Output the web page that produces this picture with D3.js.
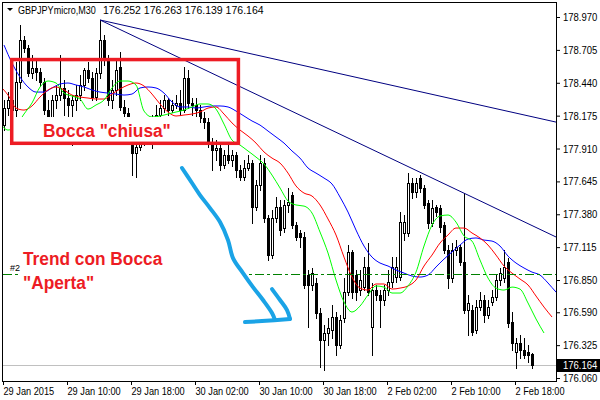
<!DOCTYPE html>
<html><head><meta charset="utf-8">
<script src="https://cdn.jsdelivr.net/npm/d3@7"></script>
<style>body{margin:0;background:#fff}svg{display:block}</style>
</head><body>
<svg id="chart" width="600" height="400"></svg>
<script>
// ---------------- DATA ----------------
const symbolTitle = "GBPJPYmicro,M30";
const opens = [178.099,178.236,178.301,178.220,178.446,178.785,178.720,178.519,178.559,178.527,
178.446,178.220,178.156,178.301,178.341,178.398,178.317,178.261,178.301,178.341,
178.422,178.543,178.478,178.325,178.519,178.785,178.623,178.301,178.382,178.567,
178.245,178.196,178.019,177.874,177.922,177.995,178.075,178.043,178.099,178.180,
178.236,178.301,178.220,178.261,178.277,178.220,178.478,178.277,178.261,178.220,
178.156,178.124,177.954,177.898,177.914,177.777,177.857,177.817,177.857,177.737,
177.680,177.753,177.793,177.438,177.616,177.793,177.350,177.051,177.350,177.438,
177.269,177.455,177.535,177.293,177.229,177.197,176.890,176.810,176.826,176.584,
176.366,176.423,176.447,176.552,176.326,176.544,176.753,177.076,176.890,176.769,
176.793,176.955,176.471,176.769,176.729,176.689,176.769,176.834,176.874,176.874,
177.229,177.229,177.632,177.559,177.672,177.592,177.471,177.309,177.438,177.430,
177.293,177.092,176.866,177.092,177.116,176.995,176.608,176.608,176.447,176.632,
176.689,176.568,176.673,176.713,176.850,176.866,176.995,176.511,176.270,176.342,
176.286,176.270,176.252];
const highs = [178.301,178.365,178.341,178.607,178.905,178.817,178.744,178.664,178.623,178.559,
178.478,178.301,178.341,178.422,178.664,178.462,178.382,178.341,178.422,178.502,
178.559,178.607,178.527,178.559,178.946,178.825,178.664,178.462,178.623,178.688,
178.301,178.236,178.059,177.978,178.099,178.140,178.156,178.180,178.261,178.301,
178.341,178.317,178.301,178.341,178.382,178.567,178.543,178.317,178.317,178.261,
178.204,178.156,177.995,177.978,177.938,177.898,177.954,177.898,177.882,177.777,
177.817,177.857,177.817,177.656,177.857,177.833,177.374,177.414,177.519,177.495,
177.495,177.592,177.559,177.317,177.253,177.237,176.931,176.947,176.866,176.624,
176.487,176.544,176.648,176.592,176.568,176.866,177.132,177.092,176.931,176.931,
177.035,177.148,176.826,176.810,176.769,176.810,176.931,177.035,177.035,177.398,
177.374,177.712,177.672,177.672,177.696,177.616,177.495,177.495,177.455,177.455,
177.317,177.132,177.148,177.172,177.132,177.551,176.729,176.648,176.689,176.753,
176.729,176.689,176.769,176.890,176.947,177.092,177.027,176.592,176.382,176.407,
176.382,176.326,176.263];
const lows = [178.059,178.180,178.156,178.140,178.398,178.688,178.494,178.478,178.462,178.414,
178.188,178.099,178.124,178.236,178.301,178.180,177.978,177.938,178.220,178.301,
178.382,178.446,178.301,178.301,178.478,178.583,178.261,178.236,178.341,178.220,
178.140,177.978,177.696,177.680,177.898,177.938,177.978,177.914,178.059,178.156,
178.204,178.180,178.204,178.236,178.180,178.204,178.236,178.180,178.156,178.124,
178.075,177.922,177.737,177.817,177.737,177.753,177.793,177.769,177.680,177.656,
177.656,177.737,177.309,177.414,177.575,177.317,177.011,177.027,177.317,177.213,
177.237,177.398,177.269,177.172,177.116,176.785,176.471,176.769,176.544,176.149,
176.124,176.326,176.382,176.245,176.302,176.511,176.729,176.705,176.689,176.729,
176.769,176.729,176.245,176.689,176.471,176.648,176.729,176.793,176.834,176.850,
177.172,177.205,177.511,177.519,177.559,177.430,177.269,177.285,177.366,177.237,
177.068,176.785,176.834,177.051,176.971,176.584,176.407,176.407,176.423,176.608,
176.511,176.544,176.648,176.689,176.810,176.834,176.471,176.286,176.141,176.221,
176.221,176.189,176.139];
const closes = [178.236,178.301,178.220,178.446,178.785,178.720,178.519,178.559,178.527,178.446,
178.220,178.156,178.301,178.341,178.398,178.317,178.261,178.301,178.341,178.422,
178.543,178.478,178.325,178.519,178.785,178.623,178.301,178.382,178.543,178.245,
178.196,178.019,177.874,177.922,177.995,178.075,178.043,178.099,178.180,178.236,
178.301,178.220,178.261,178.277,178.220,178.478,178.277,178.261,178.220,178.156,
178.124,177.954,177.898,177.914,177.777,177.857,177.817,177.857,177.737,177.680,
177.753,177.793,177.438,177.616,177.793,177.350,177.051,177.350,177.438,177.253,
177.455,177.479,177.293,177.197,177.197,176.810,176.810,176.906,176.584,176.366,
176.423,176.463,176.552,176.326,176.528,176.753,177.076,176.753,176.753,176.850,
176.955,176.753,176.769,176.729,176.689,176.769,176.834,176.955,176.955,177.317,
177.317,177.632,177.559,177.632,177.592,177.455,177.309,177.430,177.398,177.277,
177.092,176.866,177.092,177.116,176.995,176.608,176.665,176.431,176.632,176.689,
176.568,176.632,176.713,176.850,176.906,176.955,176.503,176.342,176.342,176.286,
176.245,176.245,176.164];

// Alligator lines, read every 2 bars (bar index = start + 2*k)
const lineStep = 2;
const jawStart = 0;   // blue
const jawValues = [178.744,178.599,178.486,178.406,178.365,178.365,178.398,178.430,178.438,178.422,
178.406,178.382,178.365,178.357,178.349,178.341,178.349,178.398,178.406,178.398,
178.357,178.285,178.245,178.245,178.236,178.245,178.253,178.253,178.245,178.212,
178.172,178.132,178.099,178.051,178.003,177.954,177.890,177.833,177.753,177.712,
177.672,177.624,177.519,177.398,177.253,177.124,177.035,176.987,176.963,176.931,
176.906,176.882,176.874,176.890,176.955,177.019,177.076,177.132,177.180,177.189,
177.172,177.164,177.124,177.043,176.987,176.947,176.914,176.890,176.826,176.753,176.689];
const teethStart = -1; // red
const teethValues = [178.414,178.341,178.236,178.220,178.253,178.325,178.382,178.406,178.382,178.341,
178.325,178.317,178.309,178.309,178.349,178.390,178.422,178.438,178.414,178.349,
178.269,178.204,178.172,178.180,178.188,178.204,178.236,178.245,178.188,178.116,
178.059,178.011,177.954,177.882,177.833,177.793,177.712,177.608,177.551,177.527,
177.455,177.342,177.213,177.035,176.874,176.785,176.769,176.818,176.818,176.777,
176.785,176.802,176.850,176.963,177.051,177.148,177.213,177.269,177.269,177.229,
177.189,177.132,177.051,176.963,176.906,176.858,176.810,176.721,176.632,176.552];
const lipsStart = -1;  // green
const lipsValues = [178.116,178.059,178.091,178.188,178.277,178.406,178.454,178.438,178.357,178.333,
178.309,178.228,178.261,178.301,178.398,178.454,178.454,178.422,178.212,178.164,
178.172,178.188,178.204,178.220,178.245,178.269,178.269,178.228,178.107,177.978,
177.938,177.890,177.841,177.785,177.696,177.592,177.487,177.455,177.446,177.390,
177.237,177.068,176.850,176.673,176.592,176.640,176.729,176.802,176.793,176.745,
176.745,176.802,176.914,177.124,177.293,177.366,177.374,177.317,177.205,177.164,
177.011,176.866,176.785,176.769,176.793,176.777,176.665,176.536,176.423];

const xTickBars = [0,16,32,48,64,80,96,112,128];
const xTickLabels = ["29 Jan 2015","29 Jan 10:00","29 Jan 18:00","30 Jan 02:00","30 Jan 10:00",
  "30 Jan 18:00","2 Feb 02:00","2 Feb 10:00","2 Feb 18:00"];
const yTickValues = [178.970,178.705,178.440,178.175,177.910,177.645,177.380,177.115,176.850,176.590,176.325,176.060];

// objects drawn on the chart (bar index, price)
const levelPrice = 176.898;
const levelLabel = "#2";
const trendStart = [24, 178.946];
const trendEnds = [[138, 178.123], [138, 177.197]];
const boxCorners = [[1.93, 178.627], [58.6, 177.952]];
// opaque backgrounds of the pasted text boxes
const textBackgrounds = [[[2.25, 178.164], [49, 177.962]], [[4.25, 177.140], [60, 176.721]]];
const noteClosed = {text: 'Bocca "chiusa"', bar: 9.75, price: 178.003};
const noteOpen = [{text: 'Trend con Bocca', bar: 4.75, price: 176.971},
                  {text: '"Aperta"', bar: 4.75, price: 176.777}];
const arrowStrokes = [
  [[44.5,177.753],[47,177.632],[49,177.535],[51.5,177.430],[54,177.317],[56,177.172],[57.25,177.027],
   [59.75,176.906],[62.25,176.793],[64.75,176.689],[67,176.584],[67.75,176.528]],
  [[60.25,176.511],[64.5,176.519],[71.5,176.536]],
  [[67,176.777],[69,176.689],[70.75,176.608],[71.5,176.536]]
];

// ---------------- CHART ----------------
const W = 600, H = 400;
const plot = {left: 2.5, right: 556.5, top: 2.5, bottom: 381.5};
const svg = d3.select("#chart");
const FONT = "'Liberation Sans', Arial, sans-serif";

const x = d3.scaleLinear().domain([0, 132]).range([4, 532]);
const y = d3.scaleLinear().domain([176.032, 179.087]).range([plot.bottom, plot.top]);

function condense(sel, f) {
  sel.each(function () {
    const L = this.getComputedTextLength();
    if (L > 0) { this.setAttribute("textLength", (L * f).toFixed(2)); this.setAttribute("lengthAdjust", "spacingAndGlyphs"); }
  });
}

svg.append("rect").attr("width", W).attr("height", H).attr("fill", "#fff");
svg.append("defs").append("clipPath").attr("id", "clip").append("rect")
  .attr("x", plot.left).attr("y", plot.top).attr("width", plot.right - plot.left).attr("height", plot.bottom - plot.top);

const bars = opens.map((o, i) => ({i, o, h: highs[i], l: lows[i], c: closes[i]}));
const lastClose = closes[closes.length - 1];

const main = svg.append("g").attr("clip-path", "url(#clip)");

// bid line
main.append("line").attr("x1", plot.left).attr("x2", plot.right)
  .attr("y1", Math.round(y(lastClose)) + 0.5).attr("y2", Math.round(y(lastClose)) + 0.5)
  .attr("stroke", "#c0c0c0").attr("stroke-width", 1);

// candles
const cg = main.append("g").attr("shape-rendering", "crispEdges");
cg.selectAll("line.wick").data(bars).join("line").attr("class", "wick")
  .attr("x1", d => Math.round(x(d.i)) + 0.5).attr("x2", d => Math.round(x(d.i)) + 0.5)
  .attr("y1", d => Math.round(y(d.h))).attr("y2", d => Math.round(y(d.l)) + 1)
  .attr("stroke", "#000");
cg.selectAll("rect.body").data(bars.filter(d => d.c < d.o)).join("rect").attr("class", "body")
  .attr("x", d => Math.round(x(d.i)) - 1).attr("width", 3)
  .attr("y", d => Math.round(y(d.o)))
  .attr("height", d => Math.max(1, Math.round(y(d.c)) - Math.round(y(d.o)) + 1))
  .attr("fill", "#000");
cg.selectAll("rect.bull").data(bars.filter(d => d.c >= d.o)).join("rect").attr("class", "bull")
  .attr("x", d => Math.round(x(d.i)) - 0.5).attr("width", 2)
  .attr("y", d => Math.round(y(d.c)) + 0.5)
  .attr("height", d => Math.max(0, Math.round(y(d.o)) - Math.round(y(d.c))))
  .attr("fill", "#fff").attr("stroke", "#000");

// alligator
const lineGen = d3.line().x(d => x(d[0])).y(d => y(d[1])).curve(d3.curveMonotoneX);
const series = [
  {start: jawStart, values: jawValues, color: "#0000ff"},
  {start: teethStart, values: teethValues, color: "#ff0000"},
  {start: lipsStart, values: lipsValues, color: "#00ff00"}
];
main.selectAll("path.ma").data(series).join("path").attr("class", "ma")
  .attr("d", s => lineGen(s.values.map((v, k) => [s.start + k * lineStep, v])))
  .attr("fill", "none").attr("stroke", s => s.color).attr("stroke-width", 1);

// trend lines
main.selectAll("path.trend").data(trendEnds).join("path").attr("class", "trend")
  .attr("d", e => d3.line().x(d => x(d[0])).y(d => y(d[1]))([trendStart, e]))
  .attr("stroke", "#000080").attr("stroke-width", 1).attr("fill", "none");

// horizontal level
main.append("line").attr("x1", plot.left).attr("x2", plot.right)
  .attr("y1", Math.round(y(levelPrice)) + 0.5).attr("y2", Math.round(y(levelPrice)) + 0.5)
  .attr("stroke", "#008000").attr("stroke-dasharray", "9,3,3,3").attr("shape-rendering", "crispEdges");

// annotations (pasted on top of the chart)
const RED = "#ed1c24", CYAN = "#1aa3e6";
svg.selectAll("rect.textbg").data(textBackgrounds).join("rect").attr("class", "textbg")
  .attr("x", d => x(d[0][0])).attr("y", d => y(d[0][1]))
  .attr("width", d => x(d[1][0]) - x(d[0][0])).attr("height", d => y(d[1][1]) - y(d[0][1]))
  .attr("fill", "#fff");

svg.append("text").attr("x", x(1.5)).attr("y", y(levelPrice) - 3)
  .attr("font-family", FONT).attr("font-size", 9).attr("fill", "#000").text(levelLabel);

svg.append("rect")
  .attr("x", x(boxCorners[0][0])).attr("y", y(boxCorners[0][1]))
  .attr("width", x(boxCorners[1][0]) - x(boxCorners[0][0]))
  .attr("height", y(boxCorners[1][1]) - y(boxCorners[0][1]))
  .attr("fill", "none").attr("stroke", RED).attr("stroke-width", 3.5);

const notes = [noteClosed].concat(noteOpen);
const nt = svg.selectAll("text.note").data(notes).join("text").attr("class", "note")
  .attr("x", d => x(d.bar)).attr("y", d => y(d.price))
  .attr("font-family", FONT).attr("font-weight", "bold").attr("font-size", 18)
  .attr("fill", RED).text(d => d.text);
condense(nt, 0.96);

svg.selectAll("path.arrow").data(arrowStrokes).join("path").attr("class", "arrow")
  .attr("d", d3.line().x(d => x(d[0])).y(d => y(d[1])).curve(d3.curveCatmullRom))
  .attr("fill", "none").attr("stroke", CYAN).attr("stroke-width", 4)
  .attr("stroke-linecap", "round").attr("stroke-linejoin", "round");

// frame
svg.append("rect").attr("x", plot.left).attr("y", plot.top)
  .attr("width", plot.right - plot.left).attr("height", plot.bottom - plot.top)
  .attr("fill", "none").attr("stroke", "#000").attr("shape-rendering", "crispEdges");

// right axis
const yAxis = d3.axisRight(y).tickValues(yTickValues).tickFormat(d3.format(".3f")).tickSize(4).tickPadding(3);
const ya = svg.append("g").attr("transform", `translate(${plot.right - 0.5},0)`).call(yAxis);
ya.select(".domain").remove();
ya.selectAll("text").attr("font-family", FONT).attr("font-size", 10).attr("fill", "#000").attr("dy", "0.35em");
ya.selectAll("line").attr("stroke", "#000");
condense(ya.selectAll("text"), 0.95);

// bottom axis
const xAxis = d3.axisBottom(x).tickValues(xTickBars).tickFormat((d, i) => xTickLabels[i]).tickSize(4);
const xa = svg.append("g").attr("transform", `translate(-1,${plot.bottom - 0.5})`).call(xAxis);
xa.select(".domain").remove();
xa.selectAll("line").attr("stroke", "#000");
xa.selectAll("text").attr("font-family", FONT).attr("font-size", 10).attr("fill", "#000")
  .attr("text-anchor", "start").attr("y", 13.5).attr("dy", 0).attr("x", 0);
condense(xa.selectAll("text"), 0.92);

// last price label
const ly = Math.round(y(lastClose));
svg.append("rect").attr("x", 557).attr("y", ly - 6).attr("width", 43).attr("height", 13).attr("fill", "#000");
const lt = svg.append("text").attr("x", 563).attr("y", ly + 4).attr("font-family", FONT).attr("font-size", 10)
  .attr("fill", "#fff").text(d3.format(".3f")(lastClose));
condense(lt, 0.95);

// header
svg.append("path").attr("d", "M7,8L13,8L10,11Z").attr("fill", "#000");
const ht = svg.append("text").attr("x", 18).attr("y", 13.5).attr("font-family", FONT).attr("font-size", 10.5)
  .attr("fill", "#000").text(symbolTitle);
condense(ht, 0.86);
const lastBar = bars[bars.length - 1];
svg.append("text").attr("x", 103).attr("y", 13.5).attr("font-family", FONT).attr("font-size", 10.5)
  .attr("fill", "#000").text([lastBar.o, lastBar.h, lastBar.l, lastBar.c].map(d3.format(".3f")).join(" "));
</script>
</body></html>
